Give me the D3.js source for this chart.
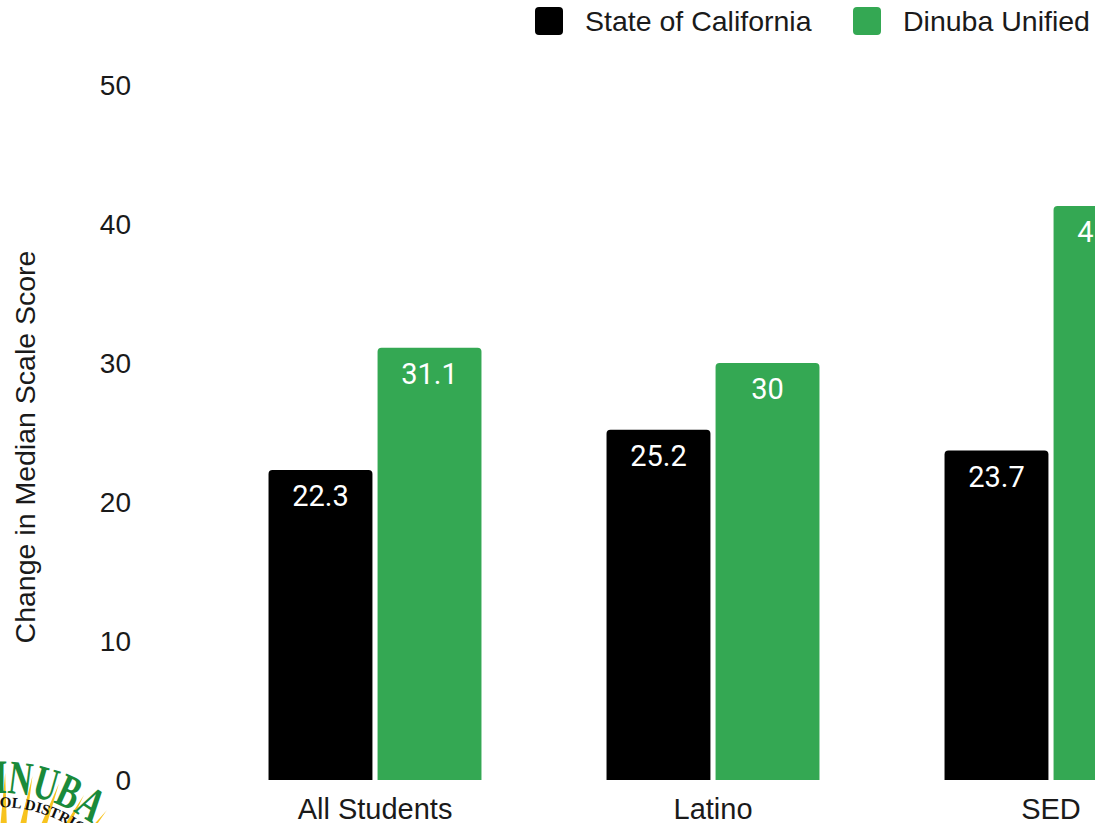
<!DOCTYPE html>
<html>
<head>
<meta charset="utf-8">
<script src="https://cdn.jsdelivr.net/npm/d3@7"></script>
<style>
  body { margin: 0; background: #fff; }
  svg { display: block; }
</style>
</head>
<body>
<svg id="chart" width="1095" height="823"></svg>
<script>
var categories = ["All Students", "Latino", "SED"];
var seriesNames = ["State of California", "Dinuba Unified"];
var stateValues = [22.3, 25.2, 23.7];
var dinubaValues = [31.1, 30, 41.3];
var yTicks = [0, 10, 20, 30, 40, 50];
var colors = ["#000000", "#34a853"];

var svg = d3.select("#chart");
const width = +svg.attr("width");
const height = +svg.attr("height");

var sans = "'Liberation Sans', Arial, Helvetica, sans-serif";

// district logo in the bottom-left corner, mostly cut off
function drawLogo() {
  var cx = 0, cy = 945;
  var logo = svg.append("g");
  var g = logo.append("g").attr("transform", "translate(" + cx + "," + cy + ")");
  var rays = d3.range(-0.45, 1.3, 0.16);
  g.selectAll("path.ray").data(rays).enter().append("path")
    .attr("d", a => {
      var w = 0.05, r0 = 95, r1 = 172;
      var p = (r, t) => [r * Math.sin(t), -r * Math.cos(t)];
      return "M" + p(r0, a - w) + "L" + p(r1, a) + "L" + p(r0, a + w) + "Z";
    })
    .attr("fill", "#f7c31e");
  g.append("path")
    .attr("d", d3.arc()({innerRadius: 108, outerRadius: 113, startAngle: 0.35, endAngle: 0.95}))
    .attr("fill", "#1a8a3a");
  g.append("path")
    .attr("d", d3.arc()({innerRadius: 120, outerRadius: 123, startAngle: 0.45, endAngle: 0.8}))
    .attr("fill", "#1a8a3a");

  g.append("path").attr("id", "arcOuter")
    .attr("d", d3.arc()({innerRadius: 0, outerRadius: 152, startAngle: -0.8, endAngle: 1.5}).split("L")[0])
    .attr("fill", "none");
  g.append("path").attr("id", "arcInner")
    .attr("d", d3.arc()({innerRadius: 0, outerRadius: 138, startAngle: -0.8, endAngle: 1.5}).split("L")[0])
    .attr("fill", "none");
  g.append("text").attr("font-family", "'Liberation Serif', serif").attr("font-weight", "bold")
    .attr("font-size", 48).attr("fill", "#1a8a3a").attr("text-anchor", "end")
    .attr("textLength", 128).attr("lengthAdjust", "spacingAndGlyphs")
    .append("textPath").attr("href", "#arcOuter").attr("startOffset", (0.65 + 0.8) * 152)
    .text("DINUBA");
  g.append("text").attr("font-family", "'Liberation Serif', serif").attr("font-weight", "bold")
    .attr("font-size", 15).attr("fill", "#111").attr("text-anchor", "end")
    .append("textPath").attr("href", "#arcInner").attr("startOffset", (0.70 + 0.8) * 138)
    .text("SCHOOL DISTRICT");
}
drawLogo();

var y = d3.scaleLinear().domain([0, 50]).range([780, 85]);

var x = d3.scaleBand().domain(categories).range([206, 1220])
  .paddingInner(0.37).paddingOuter(0.185);
var xSub = d3.scaleBand().domain(seriesNames).range([0, x.bandwidth()]).paddingInner(0.047);

// y tick labels only, no gridlines
var yAxis = svg.append("g").attr("transform", "translate(131,0)")
  .call(d3.axisLeft(y).tickValues(yTicks).tickSize(0).tickPadding(0));
yAxis.select(".domain").remove();
yAxis.selectAll("text").attr("font-family", sans).attr("font-size", 28)
  .attr("fill", "#1a1a1a").attr("dy", "0.35em");

svg.append("text")
  .attr("transform", "translate(35,447) rotate(-90)")
  .attr("text-anchor", "middle")
  .attr("font-family", sans).attr("font-size", 28.5).attr("fill", "#1a1a1a")
  .text("Change in Median Scale Score");

var data = [];
categories.forEach((c, i) => {
  data.push({cat: c, s: 0, v: stateValues[i]});
  data.push({cat: c, s: 1, v: dinubaValues[i]});
});

function topRounded(x0, y0, w, h, r) {
  return "M" + x0 + "," + (y0 + h) +
    "V" + (y0 + r) + "Q" + x0 + "," + y0 + " " + (x0 + r) + "," + y0 +
    "H" + (x0 + w - r) + "Q" + (x0 + w) + "," + y0 + " " + (x0 + w) + "," + (y0 + r) +
    "V" + (y0 + h) + "Z";
}

var bars = svg.append("g");
bars.selectAll("path").data(data).enter().append("path")
  .attr("d", d => {
    var bx = x(d.cat) + xSub(seriesNames[d.s]);
    return topRounded(bx, y(d.v), xSub.bandwidth(), y(0) - y(d.v), 4);
  })
  .attr("fill", d => colors[d.s]);

bars.selectAll("text").data(data).enter().append("text")
  .attr("x", d => x(d.cat) + xSub(seriesNames[d.s]) + xSub.bandwidth() / 2)
  .attr("y", d => y(d.v) + 36)
  .attr("text-anchor", "middle")
  .attr("font-family", "Roboto, sans-serif").attr("font-size", 29)
  .attr("fill", "#fff")
  .text(d => d.v);

// category labels
var xAxis = svg.append("g").attr("transform", "translate(0,780)")
  .call(d3.axisBottom(x).tickSize(0).tickPadding(0));
xAxis.select(".domain").remove();
xAxis.selectAll("text").attr("font-family", sans).attr("font-size", 29)
  .attr("fill", "#1a1a1a").attr("dy", null).attr("y", 39);

// legend
var legendX = [535, 853];
var legend = svg.append("g").selectAll("g").data(seriesNames).enter().append("g")
  .attr("transform", (d, i) => "translate(" + legendX[i] + ",7)");
legend.append("rect").attr("width", 28).attr("height", 28).attr("rx", 4)
  .attr("fill", (d, i) => colors[i]);
legend.append("text").attr("x", 50).attr("y", 24)
  .attr("font-family", sans).attr("font-size", 28.5).attr("fill", "#1a1a1a")
  .text(d => d);
</script>
</body>
</html>
